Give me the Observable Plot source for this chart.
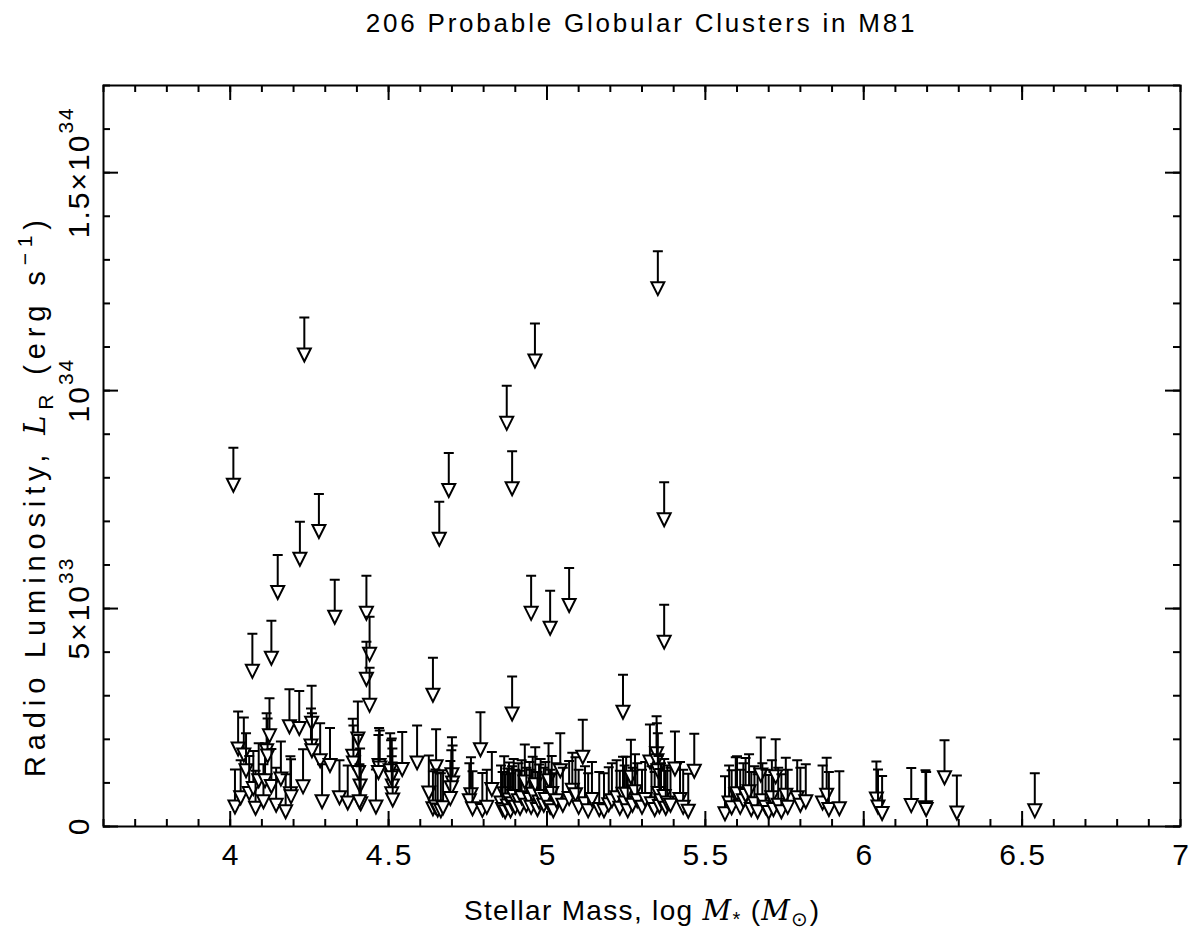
<!DOCTYPE html>
<html><head><meta charset="utf-8">
<script src="https://cdn.jsdelivr.net/npm/d3@7"></script>
<script src="https://cdn.jsdelivr.net/npm/@observablehq/plot@0.6"></script>
<style>
html,body{margin:0;padding:0;background:#fff;}
#title{height:50px;box-sizing:border-box;padding:9px 14px 0 103px;text-align:center;font-family:"Liberation Sans",Arial,sans-serif;font-size:26px;color:#000;line-height:28px;letter-spacing:2.8px;}
#chart svg{display:block;}
</style></head><body>
<div id="title">206 Probable Globular Clusters in M81</div>
<div id="chart"></div>
<script>
// log stellar mass (M_sun) of each cluster
const masses = [
  // isolated high limits
  4.01,4.234,4.873,4.962,5.35,4.07,4.13,4.15,4.22,4.28,4.33,4.43,4.44,4.43,4.44,4.64,4.66,4.69,4.89,4.89,4.95,5.01,5.07,5.24,5.37,5.37,4.79,5.113,
  // 4.0 - 4.3
  4.015,4.025,4.033,4.043,4.05,4.06,4.073,4.08,4.09,4.105,4.11,4.115,4.118,4.124,4.13,4.145,4.16,4.175,4.187,4.19,4.192,4.218,4.23,4.255,4.257,4.258,4.284,4.29,
  // 4.3 - 4.6
  4.315,4.345,4.371,4.387,4.389,4.403,4.41,4.405,4.412,4.408,4.46,4.47,4.472,4.468,4.51,4.512,4.505,4.508,4.51,4.513,4.543,4.59,
  // 4.6 - 4.85
  4.627,4.65,4.64,4.648,4.655,4.665,4.672,4.70,4.702,4.698,4.695,4.76,4.755,4.765,4.796,4.826,4.81,
  // 4.85 - 5.15
  4.865,4.855,4.86,4.868,4.875,4.88,4.885,4.89,4.895,4.90,4.91,4.915,4.92,4.93,4.935,4.945,4.95,4.955,4.963,4.97,4.975,4.98,4.99,4.995,5.005,5.01,5.015,5.02,5.03,5.042,5.05,5.07,5.08,5.09,5.10,5.12,5.13,5.142,
  // 5.15 - 5.47
  5.165,5.18,5.195,5.205,5.22,5.23,5.24,5.245,5.25,5.255,5.265,5.27,5.278,5.285,5.30,5.31,5.325,5.33,5.34,5.346,5.347,5.35,5.352,5.355,5.36,5.37,5.375,5.38,5.39,5.404,5.42,5.43,5.446,5.465,
  // 5.55 - 5.95
  5.562,5.575,5.583,5.596,5.60,5.61,5.62,5.627,5.638,5.645,5.655,5.665,5.675,5.68,5.69,5.70,5.71,5.715,5.722,5.73,5.74,5.754,5.76,5.79,5.80,5.817,5.87,5.883,5.89,5.923,
  // > 6
  6.04,6.045,6.058,6.15,6.195,6.197,6.255,6.294,6.54
];
// radio luminosity upper limits, in units of 10^33 erg/s
const lums = [
  8.69,11.68,10.11,11.54,13.2,4.42,4.72,6.23,6.99,7.63,5.66,5.75,4.81,4.24,3.64,3.87,7.45,8.57,8.61,3.44,5.75,5.41,5.93,3.48,7.9,5.09,2.62,2.45,
  1.31,2.64,1.52,2.50,2.14,1.62,1.73,1.28,1.91,1.43,1.91,2.60,2.48,2.94,1.78,1.35,1.95,1.20,3.15,1.61,1.54,3.11,1.77,2.71,3.23,2.60,2.37,1.43,
  2.26,1.52,1.40,2.47,2.32,2.87,1.79,2.10,1.38,1.43,1.31,2.26,2.20,2.10,2.02,1.79,2.14,1.98,1.61,1.47,2.17,2.32,
  1.63,2.23,1.27,1.31,1.24,1.22,1.29,2.05,1.86,1.75,1.50,1.59,1.45,1.27,1.23,1.71,1.30,
  1.61,1.40,1.25,1.20,1.33,1.47,1.22,1.38,1.55,1.30,1.45,1.28,1.52,1.88,1.35,1.48,1.30,1.60,1.82,1.25,1.42,1.55,1.35,1.48,1.91,1.30,1.62,1.22,1.45,2.14,1.35,1.50,1.69,1.59,1.30,1.38,1.22,1.48,
  1.25,1.22,1.36,1.45,1.52,1.28,1.60,1.40,1.60,1.22,1.99,1.35,1.66,1.45,1.30,1.48,2.34,1.38,1.25,2.53,2.37,2.14,1.62,1.32,1.45,1.55,1.28,1.40,1.35,2.18,1.48,1.30,1.21,2.13,
  1.15,1.40,1.29,1.59,1.61,1.30,1.45,1.57,1.66,1.25,1.38,1.20,2.04,1.45,1.30,1.18,1.52,1.25,2.00,1.35,1.20,1.58,1.30,1.52,1.35,1.43,1.40,1.58,1.25,1.27,
  1.49,1.31,1.16,1.34,1.29,1.25,1.98,1.17,1.22
];
const xTickValues = [4, 4.5, 5, 5.5, 6, 6.5, 7];
const xTickLabels = ["4", "4.5", "5", "5.5", "6", "6.5", "7"];
const xMinorTicks = d3.range(36, 71).map(d => d / 10);
const xMajorTicks = [4, 4.5, 5, 5.5, 6, 6.5];
const yTickValues = [0, 5, 10, 15];
// tick labels: [mantissa, exponent]
const yTickMantissas = ["0", "5×10", "10", "1.5×10"];
const yTickExponents = ["", "33", "34", "34"];
const yMinorTicks = d3.range(0, 18);

const clusters = masses.map((m, i) => ({mass: m, lum: lums[i]}));

// upper-limit arrow: cap bar at the limit, shaft, open downward triangle
const limitArrow = {
  draw(ctx) {
    ctx.moveTo(-5, 0); ctx.lineTo(5, 0);
    ctx.moveTo(0, 0); ctx.lineTo(0, 31);
    ctx.moveTo(-6.5, 31); ctx.lineTo(6.5, 31); ctx.lineTo(0, 44); ctx.closePath();
  }
};

const W = 1194, H = 886, mL = 103, mR = 14, mT = 35, mB = 110;
const innerW = W - mL - mR, innerH = H - mT - mB;
const font = "Liberation Sans, Arial, sans-serif";

const plot = Plot.plot({
  width: W, height: H,
  marginLeft: mL, marginRight: mR, marginTop: mT, marginBottom: mB,
  style: {fontFamily: font, background: "white", color: "black", letterSpacing: "2px"},
  x: {domain: [3.6, 7], axis: null},
  y: {domain: [0, 17], axis: null},
  marks: [
    // inward minor/major ticks on all four sides
    Plot.ruleX(xMinorTicks, {x: d => d, insetTop: innerH - 7, stroke: "black", strokeWidth: 2}),
    Plot.ruleX(xMinorTicks, {x: d => d, insetBottom: innerH - 7, stroke: "black", strokeWidth: 2}),
    Plot.ruleX(xMajorTicks, {x: d => d, insetTop: innerH - 15, stroke: "black", strokeWidth: 2}),
    Plot.ruleX(xMajorTicks, {x: d => d, insetBottom: innerH - 15, stroke: "black", strokeWidth: 2}),
    Plot.ruleY(yMinorTicks, {y: d => d, insetRight: innerW - 7, stroke: "black", strokeWidth: 2}),
    Plot.ruleY(yMinorTicks, {y: d => d, insetLeft: innerW - 7, stroke: "black", strokeWidth: 2}),
    Plot.ruleY(yTickValues, {y: d => d, insetRight: innerW - 15, stroke: "black", strokeWidth: 2}),
    Plot.ruleY(yTickValues, {y: d => d, insetLeft: innerW - 15, stroke: "black", strokeWidth: 2}),
    Plot.frame({stroke: "black", strokeWidth: 2}),
    Plot.text(xTickValues, {x: d => d, text: (d, i) => xTickLabels[i], frameAnchor: "bottom", dy: 29, dx: 1, fontSize: 30, lineAnchor: "middle", fill: "black"}),
    Plot.dot(clusters, {x: "mass", y: "lum", symbol: limitArrow, fill: "white", stroke: "black", strokeWidth: 2, strokeLinejoin: "miter"})
  ]
});

const svg = d3.select(plot);
const yScale = plot.scale("y");

// y tick labels (rotated, with superscript exponents)
yTickValues.forEach((v, i) => {
  const t = svg.append("text")
    .attr("transform", `translate(${mL - 25},${yScale.apply(v)}) rotate(-90)`)
    .attr("text-anchor", "middle").attr("dominant-baseline", "central")
    .attr("font-family", font).attr("font-size", 30).attr("letter-spacing", "2px").attr("fill", "black");
  t.append("tspan").text(yTickMantissas[i]);
  if (yTickExponents[i]) t.append("tspan").attr("font-size", 21).attr("dy", -13).text(yTickExponents[i]);
});

// axis titles with italics, subscripts and superscripts
const xl = svg.append("text")
  .attr("x", mL + innerW / 2).attr("y", H - 16)
  .attr("text-anchor", "middle").attr("font-family", font).attr("font-size", 28).attr("letter-spacing", "0px").attr("fill", "black")
  .attr("textLength", 355).attr("lengthAdjust", "spacing");
xl.append("tspan").text("Stellar Mass, log ");
xl.append("tspan").attr("font-style", "italic").attr("font-family", "DejaVu Serif, serif").text("M");
xl.append("tspan").attr("font-size", 20).attr("dy", 6).text("*");
xl.append("tspan").attr("dy", -6).text(" (");
xl.append("tspan").attr("font-style", "italic").attr("font-family", "DejaVu Serif, serif").text("M");
xl.append("tspan").attr("font-size", 20).attr("dy", 6).text("⊙");
xl.append("tspan").attr("dy", -6).text(")");

const yl = svg.append("text")
  .attr("transform", `translate(${mL - 58},${mT + innerH / 2 + 43}) rotate(-90)`)
  .attr("text-anchor", "middle").attr("font-family", font).attr("font-size", 29).attr("letter-spacing", "0px").attr("fill", "black")
  .attr("textLength", 557).attr("lengthAdjust", "spacing");
yl.append("tspan").text("Radio Luminosity, ");
yl.append("tspan").attr("font-style", "italic").attr("font-family", "DejaVu Serif, serif").text("L");
yl.append("tspan").attr("font-size", 21).attr("dy", 8).text("R");
yl.append("tspan").attr("dy", -8).text(" (erg s");
yl.append("tspan").attr("font-size", 21).attr("dy", -13).text("−1");
yl.append("tspan").attr("dy", 13).text(")");

document.getElementById("chart").appendChild(plot);
</script>
</body></html>
